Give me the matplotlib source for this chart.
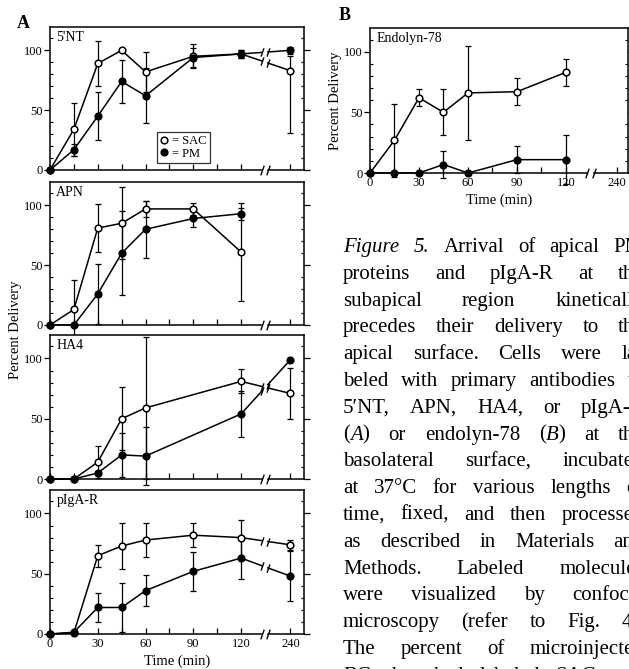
import matplotlib
matplotlib.use("Agg")
import matplotlib.pyplot as plt
from matplotlib.font_manager import FontProperties
from matplotlib.lines import Line2D
from matplotlib.ticker import MultipleLocator

plt.rcParams['font.family'] = 'Liberation Serif'

W, H = 629, 669
BREAK_POS = 135      # where the time axis is cut
POS_240 = 151        # plotted position of the 240 min point

# ---- panel A: 5'NT
nt_t = [0, 15, 30, 45, 60, 90, 120, 240]
nt_sac = [0, 34, 89, 100, 82, 95, 97, 83]
nt_sac_lo = [0, 22, 19, 0, 17, 10, 3, 52]
nt_sac_hi = [0, 22, 19, 0, 17, 10, 3, 12]
nt_pm = [0, 17, 45, 74, 62, 94, 97, 100]
nt_pm_err = [0, 5, 20, 18, 23, 8, 3, 3]

# ---- panel A: APN
apn_t = [0, 15, 30, 45, 60, 90, 120]
apn_sac = [0, 13, 81, 85, 97, 97, 61]
apn_sac_err = [0, 25, 20, 30, 7, 5, 41]
apn_pm = [0, 0, 26, 60, 80, 89, 93]
apn_pm_err = [0, 0, 25, 35, 24, 7, 5]

# ---- panel A: HA4
ha_t = [0, 15, 30, 45, 60, 120, 240]
ha_sac = [0, 0, 14, 50, 59, 81, 71]
ha_sac_err = [0, 0, 13, 26, 59, 10, 21]
ha_pm = [0, 0, 5, 20, 19, 54, 99]
ha_pm_err = [0, 0, 2, 18, 24, 19, 0]

# ---- panel A: pIgA-R
pig_t = [0, 15, 30, 45, 60, 90, 120, 240]
pig_sac = [0, 1, 65, 73, 78, 82, 80, 74]
pig_sac_err = [0, 0, 9, 19, 14, 10, 15, 4]
pig_pm = [0, 1.5, 22, 22, 36, 52, 63, 48]
pig_pm_err = [0, 0, 12, 20, 13, 16, 17, 21]

# ---- panel B: endolyn-78
end_t = [0, 15, 30, 45, 60, 90, 120]
end_sac = [0, 27, 62, 50, 66, 67, 83]
end_sac_err = [0, 30, 7, 19, 39, 11, 11]
end_pm = [0, 0, 0, 7, 0, 11, 11]
end_pm_err = [0, 0, 0, 11, 0, 11, 20]

XTICKS = [0, 30, 60, 90, 120, 240]
XMINOR = [15, 45, 75, 105]

CAPTION = [
    "*Figure* *5.*  Arrival of apical PM",
    "proteins and pIgA-R at the",
    "subapical region kinetically",
    "precedes their delivery to the",
    "apical surface. Cells were la-",
    "beled with primary antibodies to",
    "5\u2032NT, APN, HA4, or pIgA-R",
    "(*A*) or endolyn-78 (*B*) at the",
    "basolateral surface, incubated",
    "at 37\u00b0C for various lengths of",
    "time, fixed, and then processed",
    "as described in Materials and",
    "Methods. Labeled molecules",
    "were visualized by confocal",
    "microscopy (refer to Fig. 4).",
    "The percent of microinjected",
    "BC that had labeled SAC was",
]

SLASH = [(-0.35, -1), (0.35, 1)]


def pos(t):
    return t if t <= 120 else POS_240


def px_axes(fig, x0, y0, x1, y1):
    return fig.add_axes([x0 / W, 1 - y1 / H, (x1 - x0) / W, (y1 - y0) / H])


def style_axes(ax, xmax, label, show_xlabels):
    ax.set_xlim(0, xmax)
    ax.set_ylim(0, 119.5)
    for s in ax.spines.values():
        s.set_linewidth(1.1)
    ax.set_xticks([pos(t) for t in XTICKS])
    ax.set_xticks([pos(t) for t in XMINOR], minor=True)
    if show_xlabels:
        ax.set_xticklabels([str(t) for t in XTICKS])
    else:
        ax.set_xticklabels([])
    ax.set_yticks([0, 50, 100])
    ax.yaxis.set_minor_locator(MultipleLocator(10))
    ax.tick_params(axis='x', which='both', direction='in', length=4, width=0.9,
                   labelsize=9, pad=3)
    ax.tick_params(axis='y', which='major', direction='out', length=4, width=0.9,
                   labelsize=9, pad=1, right=True)
    ax.tick_params(axis='y', which='minor', direction='in', length=2, width=0.8,
                   right=True)
    ax.text(0.025, 0.975, label, transform=ax.transAxes, ha='left', va='top',
            fontsize=10)
    # broken time axis
    ax.spines['bottom'].set_visible(False)
    tr = ax.get_xaxis_transform()
    ax.plot([0, BREAK_POS - 2], [0, 0], transform=tr, color='k', lw=1.1,
            clip_on=False, zorder=5)
    ax.plot([BREAK_POS + 2, xmax], [0, 0], transform=tr, color='k', lw=1.1,
            clip_on=False, zorder=5)
    ax.plot([BREAK_POS - 2, BREAK_POS + 2], [0, 0], transform=tr, ls='none',
            marker=SLASH, ms=7, mew=1, color='k', clip_on=False, zorder=5)


def draw_series(ax, t, y, lo, hi, filled):
    x = [pos(v) for v in t]
    ax.errorbar(x, y, yerr=[lo, hi], fmt='none', ecolor='black', elinewidth=0.9,
                capsize=2.3, capthick=0.9, zorder=2, clip_on=False)
    n = sum(1 for v in t if v <= 120)
    ax.plot(x[:n], y[:n], color='black', lw=1.1, zorder=3, clip_on=False)
    if len(t) > n:
        x0, y0, x1, y1 = x[n - 1], y[n - 1], x[n], y[n]
        ga, gb = BREAK_POS - 1.8, BREAK_POS + 1.8
        ya = y0 + (y1 - y0) * (ga - x0) / (x1 - x0)
        yb = y0 + (y1 - y0) * (gb - x0) / (x1 - x0)
        ax.plot([x0, ga], [y0, ya], color='black', lw=1.1, zorder=3)
        ax.plot([gb, x1], [yb, y1], color='black', lw=1.1, zorder=3)
        ax.plot([ga, gb], [ya, yb], ls='none', marker=SLASH, ms=6, mew=1,
                color='black', zorder=3)
    ax.plot(x, y, ls='none', marker='o', ms=4.8,
            mfc='black' if filled else 'white', mec='black', mew=1.1,
            zorder=4, clip_on=False)


fig = plt.figure(figsize=(W / 100, H / 100), dpi=100)

panels = [
    ("5'NT", (27, 170), nt_t, nt_sac, nt_sac_lo, nt_sac_hi, nt_pm, nt_pm_err),
    ("APN", (182, 325), apn_t, apn_sac, apn_sac_err, apn_sac_err, apn_pm, apn_pm_err),
    ("HA4", (335, 479), ha_t, ha_sac, ha_sac_err, ha_sac_err, ha_pm, ha_pm_err),
    ("pIgA-R", (490, 634), pig_t, pig_sac, pig_sac_err, pig_sac_err, pig_pm, pig_pm_err),
]
axes_a = []
for i, (name, (y0, y1), t, sac, slo, shi, pm, perr) in enumerate(panels):
    ax = px_axes(fig, 50, y0, 304, y1)
    style_axes(ax, 159.5, name, i == len(panels) - 1)
    draw_series(ax, t, sac, slo, shi, False)
    draw_series(ax, t, pm, perr, perr, True)
    axes_a.append(ax)

axes_a[-1].set_xlabel("Time (min)", fontsize=10.5, labelpad=3)

handles = [Line2D([], [], ls='none', marker='o', ms=4.8, mfc='white', mec='k', mew=1.1),
           Line2D([], [], ls='none', marker='o', ms=4.8, mfc='black', mec='k', mew=1.1)]
leg = axes_a[0].legend(handles, ["= SAC", "= PM"], loc='lower left',
                       bbox_to_anchor=(0.42, 0.05), fontsize=9, frameon=True,
                       fancybox=False, edgecolor='black', borderpad=0.25,
                       handlelength=0.7, handletextpad=0.3, labelspacing=0.05,
                       borderaxespad=0)
leg.get_frame().set_linewidth(0.9)

fig.text(15 / W, 1 - 330 / H, "Percent Delivery", rotation=90, ha='center',
         va='center', fontsize=10.5)
fig.text(17 / W, 1 - 23 / H, "A", fontsize=13, fontweight='bold', ha='left',
         va='center')

# ---- panel B
axb = px_axes(fig, 370, 28, 628, 173)
style_axes(axb, 158, "Endolyn-78", True)
draw_series(axb, end_t, end_sac, end_sac_err, end_sac_err, False)
draw_series(axb, end_t, end_pm, end_pm_err, end_pm_err, True)
axb.set_xlabel("Time (min)", fontsize=10.5, labelpad=3)
axb.set_ylabel("Percent Delivery", fontsize=10.5, labelpad=2)
fig.text(339 / W, 1 - 15 / H, "B", fontsize=13, fontweight='bold', ha='left',
         va='center')

# ---- caption, justified to a column that runs past the page edge
renderer = fig.canvas.get_renderer()
prop_rm = FontProperties(family='Liberation Serif', size=15)
prop_it = FontProperties(family='Liberation Serif', style='italic', size=15)


def pieces(word):
    out = []
    for k, seg in enumerate(word.split('*')):
        if seg:
            out.append((seg, prop_it if k % 2 else prop_rm))
    return out


def width(s, prop):
    return renderer.get_text_width_height_descent(s, prop, ismath=False)[0]


left, right = 343, 644
space_w = width("a b", prop_rm) - width("ab", prop_rm)
for i, line in enumerate(CAPTION):
    words = [pieces(w) for w in line.split()]
    widths = [sum(width(s, p) for s, p in w) for w in words]
    gap = (right - left - sum(widths)) / max(len(words) - 1, 1)
    gap = max(gap, space_w)
    yb = 252 + 26.8 * i
    x = left
    for w, ww in zip(words, widths):
        xx = x
        for s, p in w:
            fig.text(xx / W, 1 - yb / H, s, fontproperties=p, ha='left',
                     va='baseline')
            xx += width(s, p)
        x += ww + gap

fig.savefig("out.png", dpi=100)
